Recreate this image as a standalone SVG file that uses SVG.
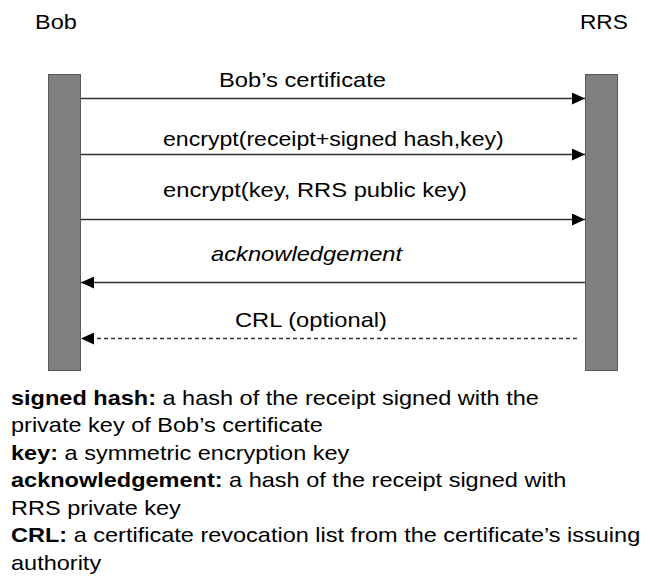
<svg xmlns="http://www.w3.org/2000/svg" width="654" height="584" viewBox="0 0 654 584">
  <style>
    text { font-family: "Liberation Sans", Arial, sans-serif; font-size: 21px; fill: #000; }
    .b { font-weight: bold; }
    .i { font-style: italic; }
    .bar { fill: #808080; stroke: #595959; stroke-width: 1; }
    .msg { stroke: #333; stroke-width: 1.5; fill: none; }
    .dash { stroke-dasharray: 4 3; }
  </style>
  <defs>
    <marker id="head" viewBox="0 0 13 12" refX="13" refY="6" markerWidth="13" markerHeight="12" markerUnits="userSpaceOnUse" orient="auto">
      <path d="M0,0 L13,6 L0,12 Z" fill="#000"/>
    </marker>
  </defs>

  <rect width="654" height="584" fill="#fff"/>

  <!-- lifelines -->
  <g id="bob">
    <text transform="translate(35,29) scale(1.12,1)">Bob</text>
    <rect class="bar" x="48.5" y="74.5" width="32" height="296"/>
  </g>
  <g id="rrs">
    <text transform="translate(580,29) scale(1.08,1)">RRS</text>
    <rect class="bar" x="585.5" y="74.5" width="32" height="296"/>
  </g>

  <!-- messages -->
  <g id="connectors">
    <line class="msg" x1="81" y1="98.5" x2="585" y2="98.5" marker-end="url(#head)"/>
    <line class="msg" x1="81" y1="154.5" x2="585" y2="154.5" marker-end="url(#head)"/>
    <line class="msg" x1="81" y1="219.5" x2="585" y2="219.5" marker-end="url(#head)"/>
    <line class="msg" x1="585" y1="282.5" x2="81" y2="282.5" marker-end="url(#head)"/>
    <line class="msg dash" x1="577" y1="338.5" x2="81" y2="338.5" marker-end="url(#head)"/>
  </g>

  <!-- message labels -->
  <g id="labels">
    <text transform="translate(219,86.5) scale(1.13,1)">Bob’s certificate</text>
    <text transform="translate(163,145.5) scale(1.1,1)">encrypt(receipt+signed hash,key)</text>
    <text transform="translate(163,197) scale(1.13,1)">encrypt(key, RRS public key)</text>
    <text class="i" transform="translate(211,261) scale(1.13,1)">acknowledgement</text>
    <text transform="translate(235,327) scale(1.13,1)">CRL (optional)</text>
  </g>

  <!-- legend -->
  <g id="legend">
    <text transform="translate(11,404.5) scale(1.12,1)"><tspan class="b">signed hash:</tspan> a hash of the receipt signed with the</text>
    <text transform="translate(11,432) scale(1.12,1)">private key of Bob’s certificate</text>
    <text transform="translate(11,459.5) scale(1.12,1)"><tspan class="b">key:</tspan> a symmetric encryption key</text>
    <text transform="translate(11,487) scale(1.12,1)"><tspan class="b">acknowledgement:</tspan> a hash of the receipt signed with</text>
    <text transform="translate(11,514.5) scale(1.12,1)">RRS private key</text>
    <text transform="translate(11,542) scale(1.12,1)"><tspan class="b">CRL:</tspan> a certificate revocation list from the certificate’s issuing</text>
    <text transform="translate(11,569.5) scale(1.12,1)">authority</text>
  </g>
</svg>
